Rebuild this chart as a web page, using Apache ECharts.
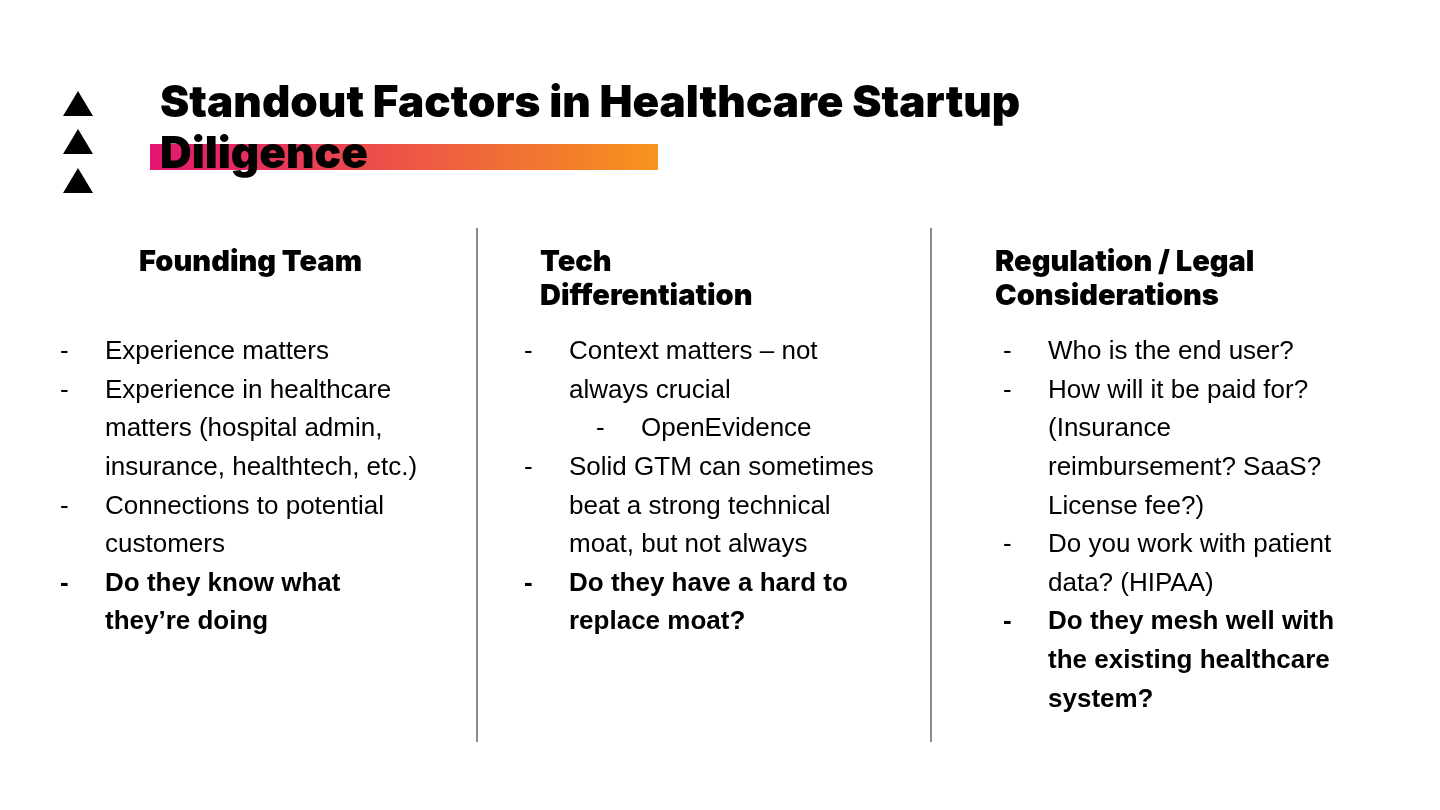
<!DOCTYPE html>
<html><head><meta charset="utf-8">
<script src="https://cdn.jsdelivr.net/npm/echarts@6/dist/echarts.min.js"></script>
<style>html,body{margin:0;padding:0;background:#fff}#c{width:1440px;height:810px}</style>
</head><body><div id="c"></div>
<script>
const titleLines = ["Standout Factors in Healthcare Startup", "Diligence"];
const headings = [["Founding Team"], ["Tech", "Differentiation"], ["Regulation / Legal", "Considerations"]];
// [kind, text, bold]  kind: 0 dash, 1 continuation, 2 sub dash, 3 sub continuation
const col1 = [
  [0,"Experience matters",0],
  [0,"Experience in healthcare",0],
  [1,"matters (hospital admin,",0],
  [1,"insurance, healthtech, etc.)",0],
  [0,"Connections to potential",0],
  [1,"customers",0],
  [0,"Do they know what",1],
  [1,"they\u2019re doing",1]
];
const col2 = [
  [0,"Context matters \u2013 not",0],
  [1,"always crucial",0],
  [2,"OpenEvidence",0],
  [0,"Solid GTM can sometimes",0],
  [1,"beat a strong technical",0],
  [1,"moat, but not always",0],
  [0,"Do they have a hard to",1],
  [1,"replace moat?",1]
];
const col3 = [
  [0,"Who is the end user?",0],
  [0,"How will it be paid for?",0],
  [1,"(Insurance",0],
  [1,"reimbursement? SaaS?",0],
  [1,"License fee?)",0],
  [0,"Do you work with patient",0],
  [1,"data? (HIPAA)",0],
  [0,"Do they mesh well with",1],
  [1,"the existing healthcare",1],
  [1,"system?",1]
];
const columns = [col1, col2, col3];

const colDashX = [60, 524, 1003];
const colTextX = [105, 569, 1048];
const headX = [139, 540, 995];
const g = [];
// triangles
[104, 142, 181].forEach(y => g.push({type:'polygon', shape:{points:[[78,y-13],[63,y+12],[93,y+12]]}, style:{fill:'#000'}}));
// gradient bar
g.push({type:'rect', shape:{x:150,y:144,width:508,height:26}, style:{fill:new echarts.graphic.LinearGradient(0,0,1,0,[{offset:0,color:'#e3166f'},{offset:1,color:'#f7941d'}])}});
titleLines.forEach((t,i) => g.push({type:'text', x:160, y:104+i*51, style:{text:t, font:'900 44px Inter', fill:'#000', textVerticalAlign:'middle'}}));
// dividers
[477, 931].forEach(x => g.push({type:'line', shape:{x1:x,y1:228,x2:x,y2:742}, style:{stroke:'#666', lineWidth:1.5}}));
headings.forEach((h,i) => h.forEach((t,j) => g.push({type:'text', x:headX[i], y:262+j*34, style:{text:t, font:'900 29px Inter', fill:'#000', textVerticalAlign:'middle'}})));
columns.forEach((col,ci) => col.forEach((ln,li) => {
  const [k,t,b] = ln, y = 352 + li*38.6;
  const font = (b?'bold ':'') + '26px "Liberation Sans", Arial';
  const sub = k>=2;
  const dx = colDashX[ci] + (sub?72:0), tx = colTextX[ci] + (sub?72:0);
  if (k===0 || k===2) g.push({type:'text', x:dx, y:y, style:{text:'-', font:font, fill:'#000', textVerticalAlign:'middle'}});
  g.push({type:'text', x:tx, y:y, style:{text:t, font:font, fill:'#000', textVerticalAlign:'middle'}});
}));
const chart = echarts.init(document.getElementById('c'));
chart.setOption({backgroundColor:'#fff', graphic:g});
</script></body></html>
